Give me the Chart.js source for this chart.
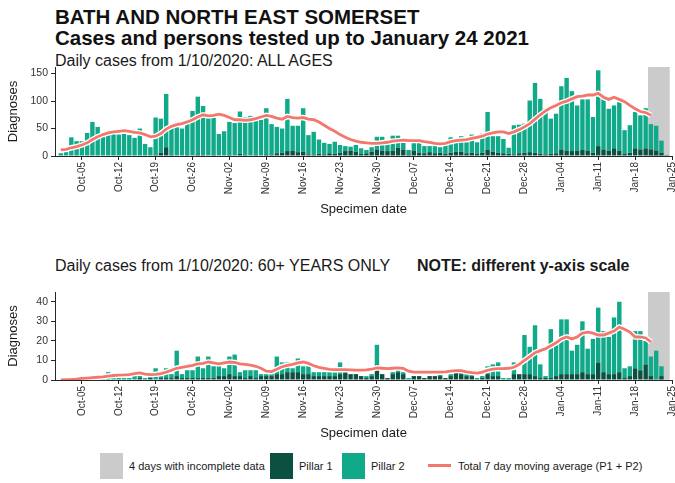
<!DOCTYPE html>
<html>
<head>
<meta charset="utf-8">
<script src="https://cdn.jsdelivr.net/npm/chart.js@4.4.0/dist/chart.umd.min.js"></script>
<style>
  body { margin: 0; background: #fff; font-family: "Liberation Sans", Arial, sans-serif; }
  #page { position: relative; width: 675px; height: 483px; overflow: hidden; background: #fff; }
  .title { position: absolute; left: 55px; font-weight: bold; font-size: 20.5px; line-height: 20px; color: #111; white-space: nowrap; }
  .sub { position: absolute; left: 55px; font-size: 16px; line-height: 16px; color: #1a1a1a; white-space: nowrap; }
  .note { position: absolute; left: 417px; font-weight: bold; font-size: 16px; line-height: 16px; color: #1a1a1a; white-space: nowrap; }
  canvas { position: absolute; left: 0; }
  .key { position: absolute; }
  .key-text { position: absolute; font-size: 11px; line-height: 12px; color: #1a1a1a; white-space: nowrap; }
</style>
</head>
<body>
<div id="page">
  <div class="title" style="top:7px">BATH AND NORTH EAST SOMERSET</div>
  <div class="title" style="top:28px">Cases and persons tested up to January 24 2021</div>
  <div class="sub" style="top:53px">Daily cases from 1/10/2020: ALL AGES</div>
  <canvas id="chart-all" width="675" height="171" style="top:50px"></canvas>
  <div class="sub" style="top:258px">Daily cases from 1/10/2020: 60+ YEARS ONLY</div>
  <div class="note" style="top:258px">NOTE: different y-axis scale</div>
  <canvas id="chart-old" width="675" height="170" style="top:275px"></canvas>
  <div id="legend"></div>
</div>
<script>
// day 0 = 1 Oct 2020, day 115 = 24 Jan 2021
const tickDays = [4, 11, 18, 25, 32, 39, 46, 53, 60, 67, 74, 81, 88, 95, 102, 109, 116];
const tickLabels = ["Oct-05", "Oct-12", "Oct-19", "Oct-26", "Nov-02", "Nov-09", "Nov-16", "Nov-23",
  "Nov-30", "Dec-07", "Dec-14", "Dec-21", "Dec-28", "Jan-04", "Jan-11", "Jan-18", "Jan-25"];
const incompleteDays = [112, 113, 114, 115];

const pillar1All = [
  0, 0, 0, 1, 0, 0, 1, 0, 0, 0,
  1, 0, 0, 0, 1, 0, 0, 0, 2, 6,
  16, 2, 1, 1, 2, 1, 3, 2, 1, 2,
  1, 1, 2, 1, 4, 2, 1, 2, 1, 3,
  2, 5, 6, 9, 10, 7, 8, 3, 2, 4,
  3, 5, 4, 6, 9, 10, 8, 4, 5, 8,
  12, 10, 9, 10, 15, 12, 3, 10, 6, 5,
  7, 5, 6, 4, 6, 8, 8, 5, 6, 4,
  6, 11, 8, 6, 5, 4, 3, 5, 6, 7,
  6, 4, 3, 4, 5, 12, 10, 9, 10, 11,
  10, 6, 18, 12, 10, 14, 10, 4, 6, 14,
  12, 14, 12, 10, 6, 0];
const pillar2All = [
  5, 7, 34, 26, 27, 42, 61, 53, 38, 38,
  39, 39, 40, 38, 32, 50, 22, 16, 68, 62,
  97, 51, 55, 49, 57, 81, 105, 89, 69, 68,
  39, 44, 60, 59, 77, 69, 72, 63, 65, 84,
  56, 48, 44, 95, 45, 48, 79, 35, 42, 26,
  21, 17, 22, 14, 9, 7, 12, 10, 6, 8,
  23, 25, 14, 27, 22, 13, 8, 14, 19, 13,
  11, 13, 10, 16, 28, 16, 28, 20, 33, 21,
  35, 69, 28, 30, 26, 11, 53, 52, 53, 94,
  127, 100, 83, 64, 72, 115, 132, 109, 82, 92,
  93, 65, 138, 95, 76, 78, 88, 43, 50, 66,
  62, 73, 46, 45, 22, 2];
const averageAll = [
  11, 12, 15, 17, 20, 24, 30, 35, 39, 42,
  44, 45, 46, 45, 43, 42, 39, 35, 36, 41,
  49, 54, 57, 59, 62, 66, 71, 75, 73, 74,
  76, 74, 70, 66, 66, 65, 66, 68, 71, 74,
  72, 69, 67, 72, 70, 69, 70, 67, 66, 62,
  56, 50, 45, 39, 34, 30, 27, 25, 24, 23,
  23, 24, 25, 27, 28, 29, 28, 28, 28, 26,
  25, 23, 22, 23, 26, 28, 29, 30, 32, 34,
  36, 40, 42, 44, 44, 41, 44, 48, 53, 59,
  67, 75, 82, 88, 92, 97, 100, 104, 108, 109,
  111, 111, 114, 107, 103, 107, 103, 99, 92, 86,
  81, 79, 74];

const pillar1Old = [
  0, 0, 0, 0, 0, 0, 0, 0, 0, 0,
  0, 0, 0, 0, 0, 1, 0, 1, 0, 1,
  1, 1, 2, 1, 1, 1, 1, 1, 1, 1,
  2, 2, 3, 2, 2, 1, 2, 1, 2, 2,
  2, 3, 3, 4, 4, 4, 3, 3, 2, 2,
  2, 2, 2, 3, 4, 3, 3, 2, 1, 2,
  8, 3, 1, 3, 4, 3, 0, 2, 2, 1,
  2, 2, 2, 1, 2, 4, 3, 2, 2, 0,
  1, 3, 2, 2, 0, 0, 3, 3, 3, 3,
  2, 1, 1, 1, 2, 3, 3, 3, 3, 4,
  3, 3, 9, 4, 3, 3, 4, 1, 2, 6,
  5, 8, 2, 0, 2, 0];
const pillar2Old = [
  0, 0, 0, 0, 1, 1, 0, 1, 1, 4,
  1, 1, 1, 1, 2, 2, 1, 1, 6, 1,
  5, 2, 13, 2, 4, 4, 11, 5, 11, 6,
  5, 4, 9, 11, 2, 4, 3, 4, 1, 1,
  2, 9, 6, 5, 2, 7, 4, 4, 2, 2,
  2, 2, 2, 6, 0, 0, 0, 0, 1, 1,
  10, 0, 0, 1, 1, 1, 1, 0, 0, 0,
  0, 0, 1, 0, 1, 2, 1, 1, 1, 1,
  1, 4, 6, 7, 1, 1, 6, 0, 20, 14,
  26, 7, 1, 25, 18, 28, 28, 12, 15, 26,
  13, 18, 28, 21, 19, 29, 36, 5, 5, 19,
  20, 12, 10, 15, 5, 0];
const averageOld = [
  0, 0.2, 0.3, 0.5, 0.8, 1, 1.2, 1.4, 1.6, 2,
  2.3, 2.5, 2.6, 2.8, 3.3, 3.6, 3, 2.8, 2.9, 3.3,
  4, 5, 6, 6.5, 7, 7.5, 8.2, 8.5, 9.2, 8.8,
  8.3, 8.8, 9.2, 9, 8.3, 8, 7.6, 7, 6, 4.5,
  4.3, 5.5, 6.8, 7.5, 8, 8.7, 9.2, 8.5, 7.3, 6.5,
  6, 5.4, 5.3, 5.3, 5.3, 5.2, 5, 5, 5.2, 5.5,
  6.2, 6, 5.8, 6, 6.2, 6, 4.5, 4, 4, 4,
  4, 4, 4, 4.2, 4.5, 4.8, 4.8, 4.2, 3.8, 3.5,
  4, 5, 5.6, 5.8, 5.8, 6, 6.5, 8, 10, 12,
  14, 15, 16, 17.5, 19, 21, 22, 21, 22, 24,
  24.5, 24, 23, 23, 24, 25, 27, 26, 24.5, 22,
  22, 21.5, 19.5];

const yTicksAll = [0, 50, 100, 150];
const yTicksOld = [0, 10, 20, 30, 40];
const yMaxAll = 162;
const yMaxOld = 45;

const GREY = "#cbcbcb";
const PILLAR1 = "#0b5040";
const PILLAR2 = "#10a98a";
const LINE = "#f4776d";
const AXIS = "#262626";

Chart.defaults.font.family = "'Liberation Sans', Arial, sans-serif";

function toPoints(values) {
  return values.map((v, i) => ({ x: i, y: v }));
}

function buildPanel(canvasId, pillar1, pillar2, average, yTicks, yMax) {
  return new Chart(document.getElementById(canvasId), {
    type: "bar",
    data: {
      datasets: [
        { type: "line", label: "Total 7 day moving average (P1 + P2)", data: toPoints(average),
          borderColor: LINE, borderWidth: 2.8, pointRadius: 0, tension: 0, stack: "ma", order: 0 },
        { type: "line", label: "halo", data: toPoints(average),
          borderColor: "#ffffff", borderWidth: 5.5, pointRadius: 0, tension: 0, stack: "halo", order: 1 },
        { label: "Pillar 1", data: toPoints(pillar1), backgroundColor: PILLAR1, stack: "cases", order: 2,
          grouped: false, barPercentage: 0.84, categoryPercentage: 1 },
        { label: "Pillar 2", data: toPoints(pillar2), backgroundColor: PILLAR2, stack: "cases", order: 3,
          grouped: false, barPercentage: 0.84, categoryPercentage: 1 },
        { label: "4 days with incomplete data", data: incompleteDays.map((d) => ({ x: d, y: yMax })),
          backgroundColor: GREY, stack: "incomplete", order: 4,
          grouped: false, barPercentage: 1, categoryPercentage: 1 },
      ],
    },
    options: {
      responsive: false,
      devicePixelRatio: 1,
      animation: false,
      layout: { padding: { top: 17, left: 2, right: 3, bottom: 0 } },
      plugins: { legend: { display: false }, tooltip: { enabled: false } },
      scales: {
        x: {
          type: "linear",
          min: -1.1,
          max: 116,
          offset: false,
          afterBuildTicks: (scale) => { scale.ticks = tickDays.map((v) => ({ value: v })); },
          afterFit: (scale) => { scale.height = 65; scale.paddingLeft = 0; scale.paddingRight = 0; },
          ticks: {
            autoSkip: false, minRotation: 90, maxRotation: 90, padding: 2,
            color: "#333", font: { size: 10 },
            callback: (value) => tickLabels[tickDays.indexOf(value)],
          },
          grid: { drawOnChartArea: false, drawTicks: true, tickLength: 4, color: AXIS, offset: false },
          border: { display: true, color: AXIS, width: 1 },
          title: { display: true, text: "Specimen date", color: "#1a1a1a", font: { size: 13 } },
        },
        y: {
          stacked: true,
          min: 0,
          max: yMax,
          afterBuildTicks: (scale) => { scale.ticks = yTicks.map((v) => ({ value: v })); },
          afterFit: (scale) => { scale.width = 53; },
          ticks: { color: "#333", font: { size: 10.5 }, padding: 3 },
          grid: { drawOnChartArea: false, drawTicks: true, tickLength: 4, color: AXIS },
          border: { display: true, color: AXIS, width: 1 },
          title: { display: true, text: "Diagnoses", color: "#1a1a1a", font: { size: 13 } },
        },
      },
    },
  });
}

buildPanel("chart-all", pillar1All, pillar2All, averageAll, yTicksAll, yMaxAll);
buildPanel("chart-old", pillar1Old, pillar2Old, averageOld, yTicksOld, yMaxOld);

const legendItems = [
  { kind: "box", colour: GREY, left: 100, textLeft: 129, text: "4 days with incomplete data" },
  { kind: "box", colour: PILLAR1, left: 270, textLeft: 299, text: "Pillar 1" },
  { kind: "box", colour: PILLAR2, left: 342, textLeft: 371, text: "Pillar 2" },
  { kind: "line", colour: LINE, left: 428, textLeft: 458, text: "Total 7 day moving average (P1 + P2)" },
];
const legendEl = document.getElementById("legend");
legendEl.innerHTML = legendItems.map((item) => {
  const key = item.kind === "box"
    ? `<div class="key" style="left:${item.left}px;top:453px;width:23px;height:26px;background:${item.colour}"></div>`
    : `<div class="key" style="left:${item.left}px;top:464px;width:23px;height:3px;background:${item.colour}"></div>`;
  return `${key}<div class="key-text" style="left:${item.textLeft}px;top:460px">${item.text}</div>`;
}).join("");
</script>
</body>
</html>
